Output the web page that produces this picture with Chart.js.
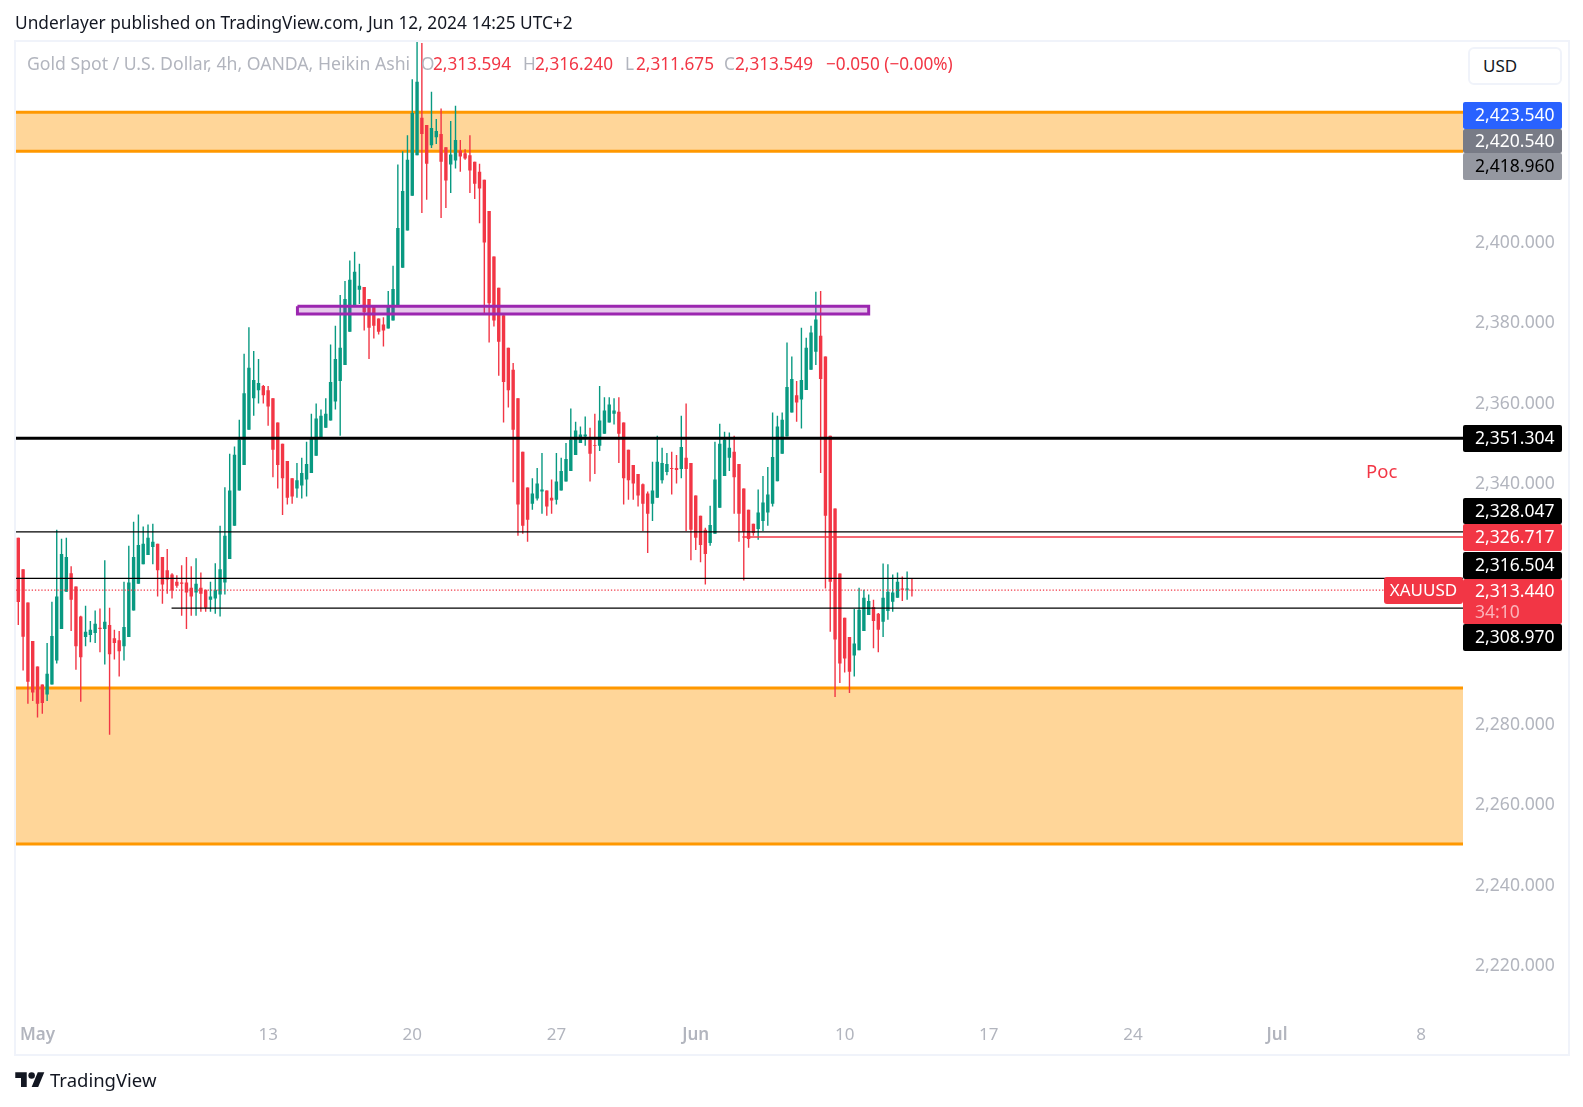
<!DOCTYPE html>
<html><head><meta charset="utf-8"><title>XAUUSD</title>
<script src="https://cdn.jsdelivr.net/npm/chart.js@4"></script>
<style>
html,body{margin:0;padding:0;background:#fff;width:1583px;height:1107px;overflow:hidden;font-family:"Noto Sans",sans-serif}
#c{position:absolute;left:0;top:0}
.t{position:absolute;white-space:nowrap;line-height:1}
.frame{position:absolute;left:14px;top:40px;width:1552px;height:1012px;border:2px solid #f0f3fa;pointer-events:none}
.badge{position:absolute;left:1463px;width:99px;box-sizing:border-box;padding:0 0 3px 12px;font-size:17.5px;display:flex;align-items:center;border-radius:2px}
</style></head><body>
<canvas id="c" width="1583" height="1107"></canvas>
<div class="frame"></div>
<div id="ui"></div>
<script>
const opens=[2326.2,2318.4,2310.1,2300.5,2294.2,2289.7,2287.2,2289.7,2295.7,2303.5,
2312.8,2317.4,2314.1,2306.6,2301.5,2302.0,2302.5,2303.8,2303.5,2304.5,
2301.2,2300.7,2299.2,2301.5,2308.1,2314.8,2319.6,2321.9,2323.9,2324.7,
2321.4,2318.1,2317.1,2315.3,2315.1,2315.1,2313.8,2312.6,2313.8,2313.3,
2310.8,2311.1,2312.1,2315.1,2320.9,2329.2,2338.0,2344.3,2353.1,2360.9,
2362.9,2364.0,2362.9,2360.9,2354.9,2349.6,2345.3,2341.0,2338.5,2339.2,
2340.7,2342.3,2346.6,2351.3,2353.6,2355.4,2360.1,2365.2,2369.2,2377.5,
2384.1,2387.9,2388.6,2385.6,2384.1,2380.8,2379.3,2378.3,2380.3,2383.9,
2393.4,2402.7,2411.3,2421.4,2430.7,2428.9,2423.9,2425.9,2426.7,2423.4,
2419.1,2420.1,2422.6,2421.9,2421.4,2419.8,2417.3,2415.3,2407.5,2396.2,
2388.4,2381.6,2373.5,2368.0,2360.9,2347.6,2338.7,2334.7,2336.0,2337.7,
2338.0,2336.2,2335.7,2338.0,2340.2,2342.8,2346.8,2349.8,2351.4,2350.6,
2349.3,2349.1,2352.1,2354.9,2357.1,2357.6,2354.9,2348.1,2344.3,2342.1,
2339.5,2337.2,2334.7,2336.2,2340.5,2342.6,2343.6,2343.6,2343.3,2346.1,
2344.8,2336.7,2331.7,2328.2,2324.9,2327.2,2333.7,2341.6,2346.1,2347.6,
2344.6,2338.5,2333.2,2329.7,2328.4,2330.4,2332.5,2334.7,2340.3,2347.1,
2351.4,2357.4,2361.7,2360.6,2363.0,2368.0,2372.5,2376.5,2371.3,2351.6,
2333.5,2317.3,2306.3,2301.5,2296.9,2298.2,2303.0,2307.0,2309.0,2307.3,
2305.3,2308.0,2310.3,2311.3,2313.6,2313.3,2313.3];
const highs=[2326.2,2318.4,2310.1,2300.5,2294.2,2289.7,2300.0,2310.3,2328.2,2326.0,
2326.2,2319.1,2314.1,2306.8,2309.3,2305.5,2308.1,2308.6,2320.6,2308.8,
2303.3,2303.0,2315.3,2324.2,2330.2,2332.0,2329.0,2329.5,2329.7,2324.7,
2321.4,2323.4,2317.4,2316.9,2319.4,2321.4,2319.1,2321.1,2317.6,2313.3,
2315.3,2319.9,2329.2,2338.8,2347.1,2348.9,2355.6,2372.0,2378.6,2372.7,
2370.7,2364.2,2364.0,2360.9,2354.9,2349.6,2345.3,2341.0,2344.8,2346.1,
2350.1,2357.1,2359.6,2358.1,2360.9,2374.3,2379.0,2386.6,2390.1,2395.2,
2397.4,2394.4,2388.6,2385.6,2384.1,2380.8,2381.1,2387.6,2393.9,2419.1,
2422.4,2426.4,2440.3,2449.8,2449.3,2428.9,2437.2,2430.4,2433.0,2423.4,
2429.9,2433.7,2425.2,2422.9,2426.4,2419.8,2419.3,2415.3,2407.5,2396.2,
2388.4,2381.6,2373.5,2369.7,2360.9,2347.6,2338.7,2341.0,2343.6,2347.3,
2338.0,2340.7,2347.3,2346.1,2349.8,2358.4,2355.1,2353.9,2356.4,2353.6,
2357.1,2364.0,2361.2,2361.2,2360.9,2361.2,2354.9,2348.1,2344.3,2342.1,
2339.7,2337.7,2345.1,2351.6,2348.6,2347.3,2347.6,2346.8,2356.6,2359.6,
2344.8,2336.7,2331.7,2328.7,2334.2,2350.1,2354.6,2352.6,2352.4,2351.6,
2344.6,2338.5,2333.2,2329.7,2338.2,2341.6,2343.8,2357.4,2356.6,2357.4,
2374.8,2371.3,2365.2,2378.5,2376.0,2379.0,2387.4,2387.6,2371.3,2351.6,
2333.5,2317.3,2306.3,2301.5,2308.5,2313.8,2313.3,2312.1,2310.8,2307.5,
2319.8,2319.6,2317.1,2317.6,2316.6,2317.8,2316.1];
const lows=[2304.5,2293.2,2284.9,2285.6,2281.5,2282.4,2285.6,2289.7,2294.9,2303.5,
2312.8,2303.0,2293.4,2285.4,2299.2,2300.2,2300.0,2297.7,2294.7,2277.2,
2295.9,2291.7,2295.7,2301.5,2308.1,2314.8,2319.6,2321.9,2319.6,2311.6,
2309.8,2312.3,2311.1,2313.8,2306.8,2303.5,2306.8,2306.8,2307.8,2307.8,
2307.8,2307.3,2306.6,2312.1,2320.9,2329.2,2338.0,2344.3,2353.1,2356.6,
2359.6,2359.6,2354.1,2341.3,2338.5,2331.9,2334.5,2334.7,2336.2,2336.0,
2336.5,2342.3,2346.6,2351.3,2353.6,2355.4,2358.1,2351.6,2369.2,2377.5,
2384.1,2384.4,2377.8,2370.7,2375.8,2376.8,2373.8,2378.3,2380.3,2383.9,
2393.4,2402.7,2411.3,2421.4,2407.0,2410.3,2423.2,2424.2,2405.8,2408.3,
2412.0,2418.1,2417.3,2420.3,2412.0,2410.5,2404.5,2381.8,2374.8,2378.8,
2366.5,2354.9,2358.6,2340.0,2326.7,2327.2,2325.2,2333.2,2335.5,2332.2,
2331.7,2332.2,2334.5,2338.0,2340.2,2342.8,2346.8,2349.8,2349.1,2340.2,
2342.1,2347.8,2352.1,2354.9,2354.4,2344.8,2334.5,2335.7,2335.7,2334.0,
2327.9,2322.4,2330.4,2336.2,2339.7,2341.8,2337.0,2339.7,2341.0,2327.9,
2320.6,2323.2,2320.1,2314.6,2324.2,2327.2,2333.7,2341.6,2342.8,2332.2,
2325.2,2315.6,2323.7,2326.7,2325.7,2327.9,2329.2,2334.0,2340.3,2347.1,
2351.4,2357.4,2355.1,2353.4,2363.0,2368.0,2369.2,2342.3,2313.6,2302.8,
2286.6,2290.1,2292.7,2287.6,2291.7,2298.2,2303.0,2307.0,2298.7,2297.7,
2301.5,2305.8,2307.8,2311.3,2310.5,2310.8,2311.6];
const closes=[2310.2,2301.6,2290.4,2287.7,2284.9,2285.1,2292.4,2301.8,2311.6,2322.2,
2321.4,2310.8,2299.2,2296.5,2302.8,2303.3,2304.8,2303.5,2305.3,2297.2,
2300.0,2298.0,2304.0,2315.1,2321.4,2324.4,2324.7,2326.2,2325.2,2318.1,
2314.6,2315.8,2313.1,2314.3,2314.8,2312.6,2311.6,2314.8,2312.3,2308.8,
2311.6,2313.3,2318.4,2326.7,2338.0,2346.9,2350.6,2362.2,2368.5,2365.5,
2364.7,2361.7,2358.9,2348.1,2344.3,2341.0,2336.2,2336.5,2340.5,2342.3,
2344.6,2350.8,2355.9,2356.6,2357.1,2365.0,2370.7,2373.5,2385.6,2390.4,
2392.4,2388.9,2382.3,2378.5,2379.0,2377.5,2377.8,2384.1,2388.1,2403.3,
2412.5,2420.3,2431.9,2439.7,2426.7,2419.3,2428.2,2427.4,2419.8,2415.1,
2421.6,2425.2,2421.1,2420.6,2417.6,2414.3,2413.1,2399.7,2384.6,2380.3,
2375.0,2365.0,2362.9,2353.1,2334.5,2329.2,2330.7,2337.2,2339.7,2338.2,
2334.0,2335.5,2340.2,2342.8,2345.8,2350.6,2352.9,2351.9,2351.9,2347.1,
2349.1,2355.4,2357.9,2359.4,2357.9,2352.1,2341.0,2340.5,2339.7,2336.7,
2334.7,2332.2,2338.0,2345.1,2344.8,2344.6,2343.3,2343.1,2348.8,2343.3,
2328.2,2326.2,2324.4,2322.2,2329.4,2340.7,2349.6,2350.6,2348.6,2341.3,
2332.2,2327.7,2325.9,2327.4,2332.5,2335.0,2337.0,2346.3,2353.9,2355.6,
2363.7,2365.7,2359.9,2365.5,2373.5,2377.3,2380.5,2365.7,2331.7,2315.3,
2300.9,2294.9,2296.2,2292.9,2299.9,2308.3,2311.3,2310.5,2305.5,2303.3,
2311.3,2312.8,2312.6,2315.3,2313.3,2313.6,2313.1];

const priceTicks=[2220,2240,2260,2280,2340,2360,2380,2400];
const timeTickBars=[4,52,82,112,141,172,202,232,262,292];
const timeTickLabels=['May','13','20','27','Jun','10','17','24','Jul','8'];
const timeTickBold=[true,false,false,false,true,false,false,false,true,false];

const axisStart=-0.54, axisEnd=300.7;
const priceMin=2204.8, priceMax=2449.9;
const upperZone=[2432.1,2422.4];
const lowerZone=[2288.8,2250.0];
const pocLine=2351.0;
const levelA=2327.7;
const levelB=2316.1;
const levelC=2308.7, levelCStart=31.9;
const redLevel=2326.4, redLevelStart=150.7;
const lastPrice=2313.2;
const rectPrices=[2383.8,2381.9], rectBars=[58.1,177.0];

const GREEN='#089981', RED='#f23645', ORANGE='#ff9800', PURPLE='#9c27b0';

const candleRange=(a,b)=>opens.map((_,i)=>({x:i,y:[a[i],b[i]]}));
const candleColors=opens.map((o,i)=>closes[i]>=o?GREEN:RED);
const hLine=(y,from,to,color,width,extra={})=>Object.assign({type:'line',data:[{x:from,y},{x:to,y}],borderColor:color,borderWidth:width,pointRadius:0,fill:false,order:1},extra);

const chart=new Chart(document.getElementById('c'),{
  type:'bar',
  data:{datasets:[
    {type:'bar',data:candleRange(lows,highs),backgroundColor:candleColors,barThickness:1.4,grouped:false,inflateAmount:0,order:6},
    {type:'bar',data:candleRange(opens,closes),backgroundColor:candleColors,barThickness:3.4,grouped:false,inflateAmount:0,order:5},
    hLine(upperZone[0],axisStart,axisEnd,ORANGE,3,{fill:'+1',backgroundColor:'rgba(255,152,0,0.4)',order:7}),
    hLine(upperZone[1],axisStart,axisEnd,ORANGE,3,{order:7}),
    hLine(lowerZone[0],axisStart,axisEnd,ORANGE,3,{fill:'+1',backgroundColor:'rgba(255,152,0,0.4)',order:7}),
    hLine(lowerZone[1],axisStart,axisEnd,ORANGE,3,{order:7}),
    hLine(rectPrices[0],rectBars[0],rectBars[1],'rgba(0,0,0,0)',0,{fill:'+1',backgroundColor:'rgba(156,39,176,0.25)',order:2}),
    hLine(rectPrices[1],rectBars[0],rectBars[1],'rgba(0,0,0,0)',0,{order:2}),
    {type:'line',data:[{x:rectBars[0],y:rectPrices[0]},{x:rectBars[1],y:rectPrices[0]},{x:rectBars[1],y:rectPrices[1]},{x:rectBars[0],y:rectPrices[1]},{x:rectBars[0],y:rectPrices[0]}],borderColor:PURPLE,borderWidth:3,pointRadius:0,fill:false,tension:0,borderJoinStyle:'miter',order:2},
    hLine(pocLine,axisStart,axisEnd,'#000',3),
    hLine(levelA,axisStart,axisEnd,'#000',1.3),
    hLine(levelB,axisStart,axisEnd,'#000',1.3),
    hLine(levelC,levelCStart,axisEnd,'#000',1.3),
    hLine(redLevel,redLevelStart,axisEnd,RED,1.3),
    hLine(lastPrice,axisStart,axisEnd,RED,1.2,{borderDash:[1.3,1.9]})
  ]},
  options:{
    responsive:false,animation:false,devicePixelRatio:1,
    layout:{padding:{left:15.7,top:40.7,right:0,bottom:0}},
    plugins:{legend:{display:false},tooltip:{enabled:false}},
    scales:{
      x:{type:'linear',min:axisStart,max:axisEnd,offset:false,
        grid:{display:false,drawTicks:false},border:{display:false},
        afterBuildTicks:s=>{s.ticks=timeTickBars.map(v=>({value:v}));},
        afterFit:s=>{s.height=81.3;},
        ticks:{autoSkip:false,maxRotation:0,padding:-1,color:'#b2b5be',
          callback:v=>timeTickLabels[timeTickBars.indexOf(v)],
          font:c=>({family:'"Noto Sans"',size:17,weight:timeTickBold[c.index]?'600':'400'})}},
      y:{type:'linear',position:'right',min:priceMin,max:priceMax,
        grid:{display:false,drawTicks:false},border:{display:false},
        afterBuildTicks:s=>{s.ticks=priceTicks.map(v=>({value:v}));},
        afterFit:s=>{s.width=120;},
        ticks:{padding:12,labelOffset:1.5,color:'#b2b5be',autoSkip:false,
          callback:v=>v.toLocaleString('en-US',{minimumFractionDigits:3}),
          font:{family:'"Noto Sans"',size:17.6}}}
    }
  }
});

const badges=[
 ['2,423.540',102,129,'#2962ff','#fff'],
 ['2,420.540',129,153,'#787b86','#fff'],
 ['2,418.960',153,180,'#9598a1','#000'],
 ['2,351.304',425,452,'#000','#fff'],
 ['2,328.047',498,524,'#000','#fff'],
 ['2,326.717',524,551,'#f23645','#fff'],
 ['2,316.504',552,579,'#000','#fff'],
 ['2,308.970',624,651,'#000','#fff']
];
const texts=[
 ['Underlayer published on TradingView.com, Jun 12, 2024 14:25 UTC+2',15,14,17.3,'#131722'],
 ['Gold Spot / U.S. Dollar, 4h, OANDA, Heikin Ashi',27,55,17.65,'#b2b5be'],
 ['O',421,55,17.2,'#b2b5be'],['2,313.594',433,55,17.2,RED],
 ['H',523,55,17.2,'#b2b5be'],['2,316.240',535,55,17.2,RED],
 ['L',625,55,17.2,'#b2b5be'],['2,311.675',636,55,17.2,RED],
 ['C',724,55,17.2,'#b2b5be'],['2,313.549',735,55,17.2,RED],
 ['\u22120.050 (\u22120.00%)',826,55,17.2,RED],
 ['Poc',1366,462,18.5,RED],
 ['TradingView',50,1071,18.5,'#131722']
];
const ui=document.getElementById('ui');
const add=(html)=>{const d=document.createElement('div');d.innerHTML=html;ui.appendChild(d.firstChild);};
texts.forEach(([s,x,y,f,c])=>add(`<div class="t" style="left:${x}px;top:${y}px;font-size:${f}px;color:${c}">${s}</div>`));
badges.forEach(([s,t,b,bg,fg])=>add(`<div class="badge" style="top:${t}px;height:${b-t}px;background:${bg};color:${fg}">${s}</div>`));
add(`<div class="badge" style="top:579px;height:45px;background:#f23645;color:#fff;display:block;padding:1px 0 0 12px;box-sizing:border-box;line-height:21px">2,313.440<br><span style="color:#fbb3b9">34:10</span></div>`);
add(`<div class="t" style="left:1384px;top:577px;width:79px;height:27px;background:#f23645;color:#fff;font-size:17px;line-height:26px;text-align:center;border-radius:3px">XAUUSD</div>`);
add(`<div class="t" style="left:1468px;top:47px;width:94px;height:38px;box-sizing:border-box;border:2px solid #f0f3fa;border-radius:6px;background:#fff;color:#131722;font-size:17px;line-height:34px;padding-left:13px">USD</div>`);
add(`<svg style="position:absolute;left:15px;top:1069px" width="30" height="18" viewBox="0 0 36 22"><path fill="#131722" d="M14 22H7V11H0V4h14v18zM28 22h-8l7.5-18h8L28 22z"/><circle fill="#131722" cx="20" cy="8" r="4"/></svg>`);
</script>
</body></html>
